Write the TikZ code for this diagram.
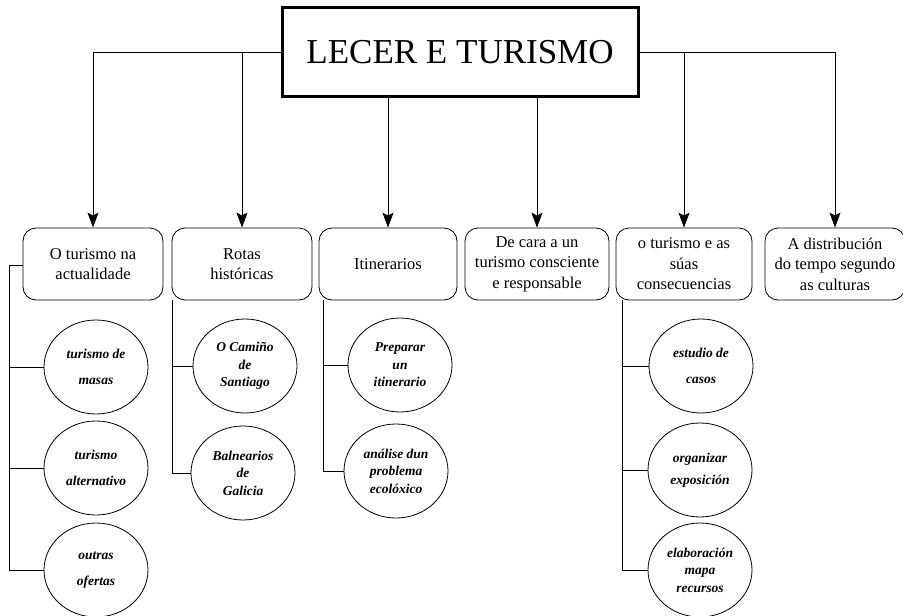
\documentclass[tikz,border=0pt]{standalone}
\usepackage{fontspec}
\setmainfont{Liberation Serif}
\usetikzlibrary{arrows.meta, shapes.geometric}

\begin{document}
\begin{tikzpicture}[x=1pt,y=-1pt]
        \tikzset{
            topic/.style={draw, line width=3pt, minimum width=356pt, minimum height=89pt,
                font=\fontsize{35}{40}\selectfont},
            theme/.style={draw, thick, rounded corners=13pt, minimum height=72pt, inner sep=1pt,
                align=center, font=\fontsize{16.5}{20.5}\selectfont},
            task/.style={draw, thick, ellipse, minimum width=104pt, minimum height=94pt, inner sep=0pt,
                align=center, font=\fontsize{13.5}{17.5}\selectfont\bfseries\itshape},
            arr/.style={thick, -{Stealth[length=15pt, width=11pt, inset=3pt]}},
            twig/.style={thick}}

        \useasboundingbox (0, 0) rectangle (903, 616);

        \node[topic] (lecer) at (460, 52) {LECER E TURISMO};

        \node[theme, minimum width=140pt] (actual) at (93, 264) {O turismo na\\actualidade};
        \node[theme, minimum width=140pt] (rotas) at (242, 264) {Rotas\\históricas};
        \node[theme, minimum width=138pt] (itiner) at (388, 264) {Itinerarios};
        \node[theme, minimum width=144pt] (cara) at (537, 264) {De cara a un\\turismo consciente\\e responsable};
        \node[theme, minimum width=136pt] (conse) at (684, 264) {o turismo e as\\súas\\consecuencias};
        \node[theme, minimum width=140pt] (culturas) at (835, 264) {A distribución\\do tempo segundo\\as culturas};

        % tarefas de cada tema
        \node[task] (masas) at (96, 367) {turismo de\\[8pt]masas};
        \node[task] (altern) at (96, 468) {turismo\\[8pt]alternativo};
        \node[task] (ofertas) at (96, 570) {outras\\[8pt]ofertas};

        \node[task] (camino) at (245, 366) {O Camiño\\de\\Santiago};
        \node[task] (balnea) at (243, 473) {Balnearios\\de\\Galicia};

        \node[task] (prepara) at (400, 365) {Preparar\\un\\itinerario};
        \node[task] (analise) at (396, 471) {análise dun\\problema\\ecolóxico};

        \node[task] (casos) at (701, 366) {estudio de\\[8pt]casos};
        \node[task] (expo) at (700, 470) {organizar\\[4pt]exposición};
        \node[task] (mapa) at (700, 570) {elaboración\\mapa\\recursos};

        \coordinate (s1) at (9, 265);

        \draw[arr] (lecer.west) -| (actual);
        \draw[arr] (lecer.west -| rotas) -- (rotas);
        \draw[arr] (lecer.south -| itiner) -- (itiner);
        \draw[arr] (lecer.south -| cara) -- (cara);
        \draw[arr] (lecer.east) -| (culturas);
        \draw[arr] (lecer.east -| conse) -- (conse);

        \draw[twig] (actual.west |- s1) -- (s1) |- (ofertas.west);
        \foreach \t in {masas, altern}
            \draw[twig] (s1 |- \t.west) -- (\t.west);

        \draw[twig] ([xshift=1pt]rotas.south west) |- (balnea.west);
        \draw[twig] ([xshift=1pt]rotas.south west |- camino.west) -- (camino.west);

        \draw[twig] ([xshift=5pt]itiner.south west) |- (analise.west);
        \draw[twig] ([xshift=5pt]itiner.south west |- prepara.west) -- (prepara.west);

        \draw[twig] ([xshift=7pt]conse.south west) |- (mapa.west);
        \foreach \t in {casos, expo}
            \draw[twig] ([xshift=7pt]conse.south west |- \t.west) -- (\t.west);
    \end{tikzpicture}
\end{document}
